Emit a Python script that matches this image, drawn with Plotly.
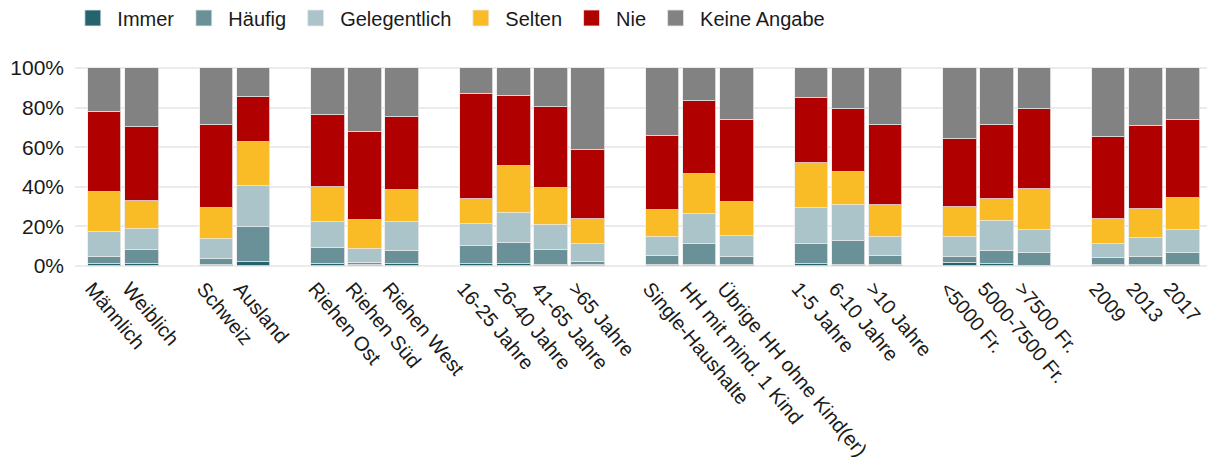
import plotly.graph_objects as go

categories = ["Männlich", "Weiblich", "Schweiz", "Ausland", "Riehen Ost", "Riehen Süd",
              "Riehen West", "16-25 Jahre", "26-40 Jahre", "41-65 Jahre", ">65 Jahre",
              "Single-Haushalte", "HH mit mind. 1 Kind", "Übrige HH ohne Kind(er)",
              "1-5 Jahre", "6-10 Jahre", ">10 Jahre", "<5000 Fr.", "5000-7500 Fr.",
              ">7500 Fr.", "2009", "2013", "2017"]
group_sizes = [2, 2, 3, 4, 3, 3, 3, 3]

immer = [0.8, 0.8, 0.5, 2.0, 0.8, 0.3, 0.8, 1.0, 1.0, 0.5, 0.3, 0.7, 0.3, 0.3, 1.0, 0.3, 0.3, 1.5, 0.8, 0.2, 0.3, 0.5, 0.5]
haeufig = [3.8, 7.1, 3.0, 17.9, 8.3, 1.4, 6.6, 9.3, 10.5, 7.6, 1.6, 4.4, 10.7, 4.3, 10.0, 12.5, 4.6, 3.1, 6.8, 6.4, 3.9, 4.1, 5.9]
gelegentlich = [12.6, 11.0, 10.4, 20.3, 12.9, 7.1, 14.6, 11.0, 15.4, 12.8, 9.1, 9.6, 15.5, 10.6, 18.2, 17.8, 9.8, 9.9, 14.9, 11.8, 6.8, 9.4, 11.7]
selten = [20.1, 13.9, 15.2, 22.3, 17.9, 14.5, 16.3, 12.5, 23.4, 18.3, 12.6, 13.5, 20.0, 17.1, 23.0, 17.0, 15.9, 15.4, 11.6, 20.3, 12.6, 14.7, 16.5]
nie = [40.6, 37.6, 42.0, 23.0, 36.6, 44.3, 37.0, 52.9, 35.8, 40.9, 35.2, 37.5, 36.6, 41.5, 32.8, 31.5, 40.7, 34.1, 37.0, 40.4, 41.8, 41.9, 38.9]
keine_angabe = [22.1, 29.6, 28.9, 14.5, 23.5, 32.4, 24.7, 13.3, 13.9, 19.9, 41.2, 34.3, 16.9, 26.2, 15.0, 20.9, 28.7, 36.0, 28.9, 20.9, 34.6, 29.4, 26.5]

series = [
    ("Immer", immer, "#25646d"),
    ("Häufig", haeufig, "#6a9197"),
    ("Gelegentlich", gelegentlich, "#abc4ca"),
    ("Selten", selten, "#f9bc26"),
    ("Nie", nie, "#b00000"),
    ("Keine Angabe", keine_angabe, "#828282"),
]

# positions: one empty slot between groups
xpos = []
slot = 0
for size in group_sizes:
    for _ in range(size):
        xpos.append(slot)
        slot += 1
    slot += 1

FONT = "Liberation Sans, Arial, sans-serif"

fig = go.Figure()
for name, vals, color in series:
    fig.add_trace(go.Bar(
        x=xpos, y=vals, name=name, showlegend=False, legendgroup=name,
        marker=dict(color=color, line=dict(color="rgba(235,235,235,0.8)", width=1)),
        width=0.9,
    ))
# legend keys (larger square swatches)
for name, vals, color in series:
    fig.add_trace(go.Scatter(
        x=[None], y=[None], name=name, mode="markers", legendgroup=name,
        marker=dict(symbol="square", size=18, color=color,
                    line=dict(color="rgba(235,235,235,0.8)", width=1)),
        hoverinfo="skip",
    ))

fig.update_layout(
    barmode="stack",
    width=1207, height=453,
    margin=dict(l=67, r=4, t=56, b=189, autoexpand=False),
    plot_bgcolor="white", paper_bgcolor="white",
    font=dict(family=FONT, size=19, color="#1a1a1a"),
    legend=dict(orientation="h", xref="container", x=0.05, xanchor="left",
                yref="paper", y=1.315, yanchor="top",
                font=dict(size=20, color="#1a1a1a"), itemwidth=39,
                traceorder="normal", itemclick=False),
    xaxis=dict(range=[-0.8, 29.75], tickmode="array", tickvals=xpos, ticktext=categories,
               tickangle=50, showgrid=False, zeroline=False, showline=False, ticks="",
               automargin=False, ticklabelshift=-13,
               tickfont=dict(size=20, color="#1a1a1a")),
    yaxis=dict(range=[-3, 102], tickmode="array", tickvals=[0, 20, 40, 60, 80, 100],
               ticktext=["0%", "20%", "40%", "60%", "80%", "100%"],
               showgrid=True, gridcolor="#ebebeb", gridwidth=2, zeroline=False,
               showline=False, ticks="", automargin=False, ticklabelstandoff=10,
               tickfont=dict(size=21, color="#1a1a1a")),
    bargap=0,
)

fig.write_html("out.html")
